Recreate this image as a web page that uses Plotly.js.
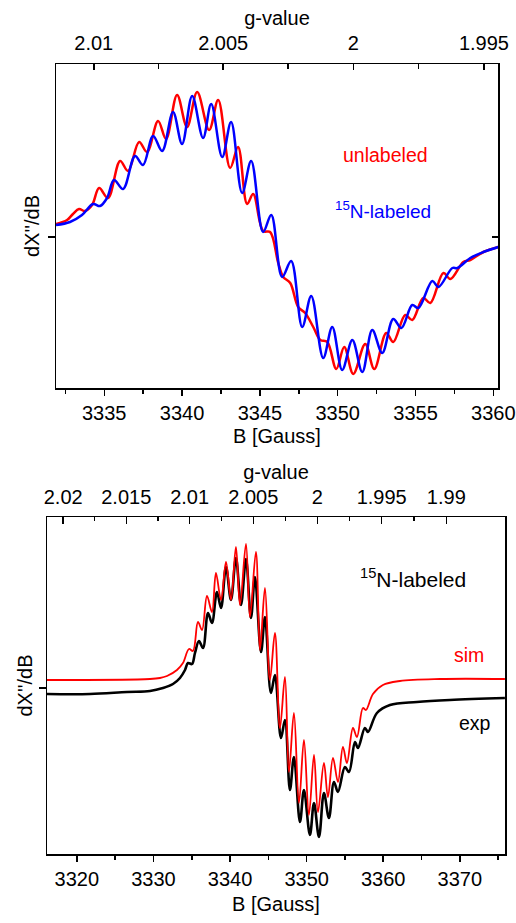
<!DOCTYPE html>
<html>
<head>
<meta charset="utf-8">
<script src="https://cdn.plot.ly/plotly-3.0.1.min.js"></script>
<style>html,body{margin:0;padding:0;background:#fff;}#chart{width:516px;height:923px;}</style>
</head>
<body>
<div id="chart"></div>
<script>
// ---------- Top panel: field (Gauss) and derivative signal (arb. units) ----------
const topUnlabeledB = [3331.90,3332.61,3332.99,3333.38,3333.76,3334.22,3334.67,3335.24,3336.02,3336.53,3337.24,3337.75,3338.46,3338.97,3339.68,3340.32,3340.97,3341.74,3342.32,3343.09,3343.60,3344.18,3344.57,3345.21,3345.66,3346.18,3346.50,3346.95,3347.46,3347.91,3348.43,3348.88,3349.33,3349.91,3350.42,3351.00,3351.77,3352.35,3353.12,3353.57,3354.34,3354.79,3355.50,3355.95,3356.79,3357.24,3358.07,3358.52,3359.36,3360.32];
const topUnlabeledY = [13,17,23,28,26,32,49,39,76,66,95,85,116,98,142,110,145,107,137,69,90,33,43,6,5,-26,-40,-46,-70,-76,-90,-103,-105,-132,-110,-137,-107,-132,-96,-105,-78,-83,-61,-66,-36,-42,-25,-23,-15,-10];

const topLabeledB = [3331.90,3332.80,3333.57,3334.28,3334.73,3335.18,3335.63,3336.21,3336.98,3337.49,3338.14,3338.72,3339.42,3340.00,3340.65,3341.35,3341.87,3342.58,3343.15,3343.86,3344.44,3345.21,3345.73,3346.43,3347.01,3347.72,3348.30,3349.07,3349.65,3350.29,3350.94,3351.58,3352.22,3352.86,3353.57,3354.09,3354.79,3355.18,3356.08,3356.47,3357.37,3357.69,3358.52,3359.36,3360.32];
const topLabeledY = [12,15,22,33,31,39,57,48,81,72,101,86,125,93,141,99,133,80,115,44,76,5,22,-40,-24,-90,-59,-121,-90,-133,-103,-135,-93,-116,-82,-91,-68,-71,-44,-50,-31,-31,-21,-15,-10];

// ---------- Bottom panel ----------
const simB = [3316.10,3329.55,3330.85,3331.77,3333.07,3333.85,3334.64,3335.16,3335.81,3336.34,3336.99,3337.64,3338.16,3338.82,3339.47,3340.12,3340.77,3341.30,3342.08,3342.60,3343.38,3343.91,3344.56,3345.21,3345.86,3346.52,3347.17,3347.69,3348.34,3349.00,3349.65,3350.30,3350.96,3351.48,3352.26,3352.78,3353.44,3354.09,3354.74,3355.26,3356.05,3356.57,3357.35,3357.74,3358.66,3359.96,3362.18,3367.41,3375.89];
const simY = [8,9,10,12,18,25,39,37,66,58,92,76,115,88,126,88,141,83,144,71,136,38,100,8,55,-40,11,-84,-25,-115,-52,-127,-67,-124,-75,-109,-70,-94,-59,-75,-40,-49,-20,-22,-6,3,7,9,9];

const expB = [3316.10,3321.71,3326.54,3329.55,3331.24,3332.55,3333.46,3334.12,3334.51,3335.03,3335.42,3335.94,3336.47,3337.12,3337.64,3338.29,3338.82,3339.47,3340.12,3340.77,3341.43,3342.08,3342.73,3343.25,3344.04,3344.56,3345.34,3345.86,3346.65,3347.17,3347.82,3348.34,3349.13,3349.65,3350.43,3350.96,3351.61,3352.26,3352.91,3353.57,3354.09,3355.00,3355.53,3356.31,3356.70,3357.61,3358.01,3359.18,3360.88,3364.40,3368.71,3375.89];
const expY = [-6,-6,-4,-3,0,4,10,18,25,24,35,47,40,75,65,96,80,121,88,130,83,129,70,111,36,71,-5,13,-50,-32,-102,-69,-134,-102,-147,-115,-149,-105,-130,-94,-104,-79,-84,-54,-60,-40,-44,-25,-17,-14,-12,-10];

// ---------- g-value tick labels ----------
const gTopMajor = [2.01, 2.005, 2, 1.995];
const gTopMinor = [2.0075, 2.0025, 1.9975];
const gBotMajor = [2.02, 2.015, 2.01, 2.005, 2, 1.995, 1.99];
const gBotMinor = [2.0175, 2.0125, 2.0075, 2.0025, 1.9975, 1.9925];
const gTopLabels = ['2.01', '2.005', '2', '1.995'];
const gBotLabels = ['2.02', '2.015', '2.01', '2.005', '2', '1.995', '1.99'];

// resonance condition B = h*nu/(muB*g); constant = g*B for each spectrometer setting
const hvTop = 6702.0, hvBot = 6702.8;
const toB = (k, gs) => gs.map(g => k / g);

const FONT = 'Liberation Sans, Arial, sans-serif';
const FS = 20;
const AX = {showgrid:false, zeroline:false, showline:true, linecolor:'#000', linewidth:1.5,
            tickcolor:'#000', tickwidth:1.5, tickfont:{family:FONT, size:FS, color:'#000'}};

const helper = (xa, ya) => ({x:[], y:[], xaxis:xa, yaxis:ya, type:'scatter', mode:'lines',
                             showlegend:false, hoverinfo:'skip'});

const traces = [
  {x: topUnlabeledB, y: topUnlabeledY, xaxis:'x', yaxis:'y', type:'scatter', mode:'lines',
   line:{color:'#ff0000', width:2.5, shape:'spline', smoothing:1}, name:'unlabeled', hoverinfo:'skip'},
  {x: topLabeledB, y: topLabeledY, xaxis:'x', yaxis:'y', type:'scatter', mode:'lines',
   line:{color:'#0000ff', width:2.5, shape:'spline', smoothing:1}, name:'15N-labeled', hoverinfo:'skip'},
  {x: expB, y: expY, xaxis:'x3', yaxis:'y3', type:'scatter', mode:'lines',
   line:{color:'#000000', width:2.6, shape:'spline', smoothing:1}, name:'exp', hoverinfo:'skip'},
  {x: simB, y: simY, xaxis:'x3', yaxis:'y3', type:'scatter', mode:'lines',
   line:{color:'#ff0000', width:1.8, shape:'spline', smoothing:1}, name:'sim', hoverinfo:'skip'},
  helper('x2', 'y'), helper('x', 'y2'), helper('x4', 'y3'), helper('x3', 'y4')
];

const topRange = [3331.9, 3360.3];
const botRange = [3316.1, 3375.9];

const layout = {
  width:516, height:923, margin:{l:0, r:0, t:0, b:0}, showlegend:false,
  paper_bgcolor:'#fff', plot_bgcolor:'#fff',
  font:{family:FONT, size:FS, color:'#000'},
  xaxis: Object.assign({}, AX, {domain:[56/516, 498/516], anchor:'y', range:topRange,
    tick0:3335, dtick:5, ticks:'outside', ticklen:6,
    minor:{dtick:2.5, ticks:'outside', ticklen:4, tickcolor:'#000', tickwidth:1.5},
    title:{text:'B [Gauss]', font:{family:FONT, size:FS}, standoff:6}}),
  xaxis2: Object.assign({}, AX, {overlaying:'x', anchor:'y', side:'top', range:topRange,
    tickmode:'array', tickvals: toB(hvTop, gTopMajor), ticktext: gTopLabels, ticks:'inside', ticklen:6,
    ticklabelstandoff:5,
    minor:{tickmode:'array', tickvals: toB(hvTop, gTopMinor), ticks:'inside', ticklen:5, tickcolor:'#000', tickwidth:1.5},
    title:{text:'g-value', font:{family:FONT, size:FS}, standoff:0}}),
  yaxis: Object.assign({}, AX, {domain:[1-388/923, 1-64/923], anchor:'x', range:[-151, 173],
    tickmode:'array', tickvals:[0], showticklabels:false, ticks:'outside', ticklen:7,
    title:{text:"dX''/dB", font:{family:FONT, size:FS}, standoff:2}}),
  yaxis2: Object.assign({}, AX, {overlaying:'y', anchor:'x', side:'right', range:[-151, 173],
    tickmode:'array', tickvals:[0], ticks:'inside', ticklen:6, showticklabels:false}),

  xaxis3: Object.assign({}, AX, {domain:[47/516, 505/516], anchor:'y3', range:botRange,
    tick0:3320, dtick:10, ticks:'outside', ticklen:6,
    minor:{dtick:5, ticks:'outside', ticklen:4, tickcolor:'#000', tickwidth:1.5},
    title:{text:'B [Gauss]', font:{family:FONT, size:FS}, standoff:8}}),
  xaxis4: Object.assign({}, AX, {overlaying:'x3', anchor:'y3', side:'top', range:botRange,
    tickmode:'array', tickvals: toB(hvBot, gBotMajor), ticktext: gBotLabels, ticks:'inside', ticklen:7,
    ticklabelstandoff:4,
    minor:{tickmode:'array', tickvals: toB(hvBot, gBotMinor), ticks:'inside', ticklen:4, tickcolor:'#000', tickwidth:1.5},
    title:{text:'g-value', font:{family:FONT, size:FS}, standoff:0}}),
  yaxis3: Object.assign({}, AX, {domain:[1-854/923, 1-517/923], anchor:'x3', range:[-166, 171],
    tickmode:'array', tickvals:[0], showticklabels:false, ticks:'outside', ticklen:7,
    title:{text:"dX''/dB", font:{family:FONT, size:FS}, standoff:0}}),
  yaxis4: Object.assign({}, AX, {overlaying:'y3', anchor:'x3', side:'right', range:[-166, 171],
    ticks:'', showticklabels:false}),

  annotations: [
    {xref:'paper', yref:'paper', x:385/516, y:1-155/923, xanchor:'center', yanchor:'middle', text:'unlabeled', showarrow:false,
     font:{family:FONT, size:19.5, color:'#ff0000'}},
    {xref:'paper', yref:'paper', x:383/516, y:1-210/923, xanchor:'center', yanchor:'middle', text:'<sup>15</sup>N-labeled', showarrow:false,
     font:{family:FONT, size:19, color:'#0000ff'}},
    {xref:'paper', yref:'paper', x:413/516, y:1-578/923, xanchor:'center', yanchor:'middle', text:'<sup>15</sup>N-labeled', showarrow:false,
     font:{family:FONT, size:21, color:'#000000'}},
    {xref:'paper', yref:'paper', x:469/516, y:1-655/923, xanchor:'center', yanchor:'middle', text:'sim', showarrow:false,
     font:{family:FONT, size:19.5, color:'#ff0000'}},
    {xref:'paper', yref:'paper', x:475/516, y:1-723/923, xanchor:'center', yanchor:'middle', text:'exp', showarrow:false,
     font:{family:FONT, size:19.5, color:'#000000'}}
  ]
};

Plotly.newPlot('chart', traces, layout, {staticPlot:true, displayModeBar:false});
</script>
</body>
</html>
